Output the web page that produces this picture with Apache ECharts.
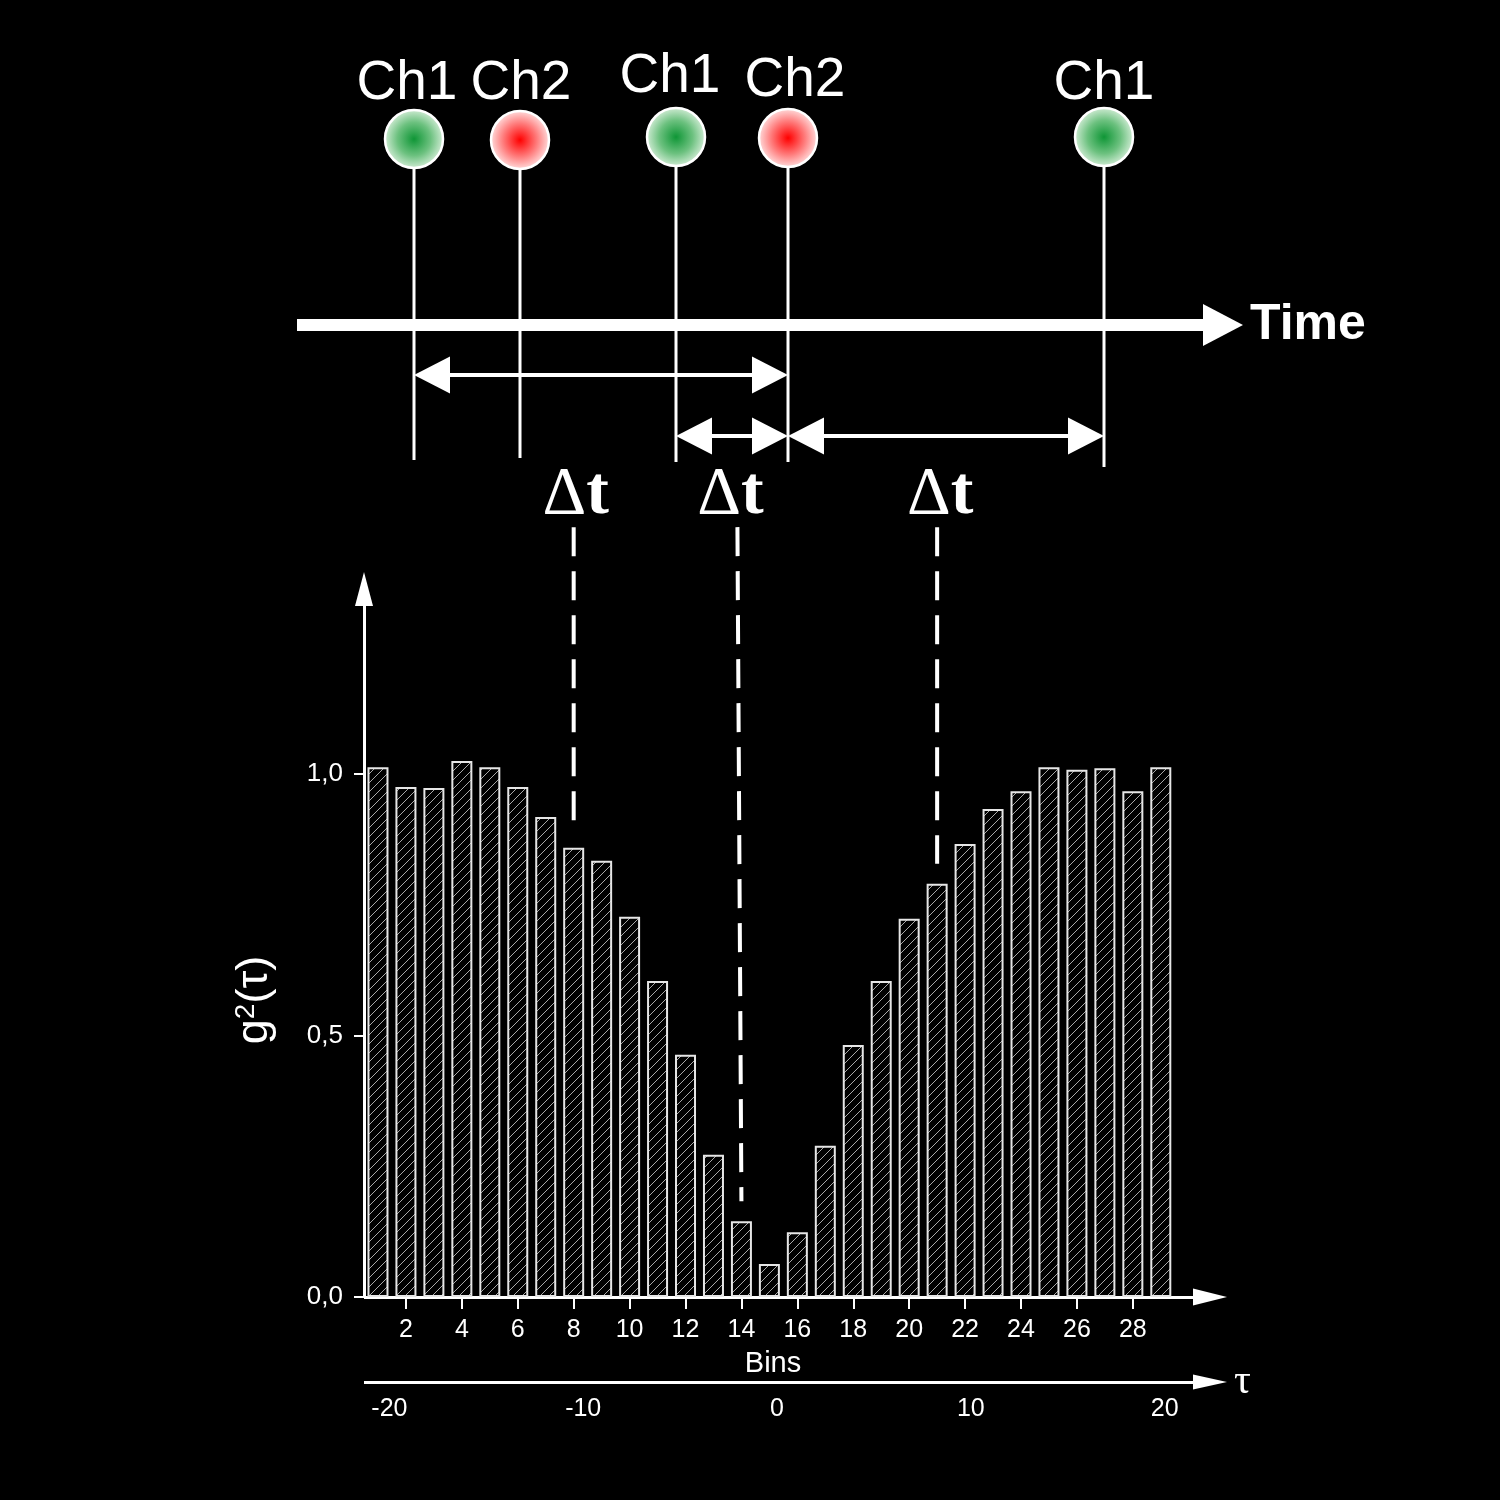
<!DOCTYPE html>
<html><head><meta charset="utf-8">
<script src="https://cdn.jsdelivr.net/npm/echarts@6/dist/echarts.min.js"></script>
<style>html,body{margin:0;background:#000}#c{width:1500px;height:1500px}</style>
</head><body><div id="c"></div>
<script>
// ---------------- data ----------------
const bins = [1,2,3,4,5,6,7,8,9,10,11,12,13,14,15,16,17,18,19,20,21,22,23,24,25,26,27,28,29];
const g2 = [1.013,0.975,0.973,1.025,1.013,0.975,0.918,0.859,0.834,0.727,0.604,0.463,0.272,0.145,0.063,
            0.124,0.289,0.482,0.604,0.723,0.790,0.866,0.933,0.967,1.013,1.008,1.011,0.967,1.013];
const binTicks = [2,4,6,8,10,12,14,16,18,20,22,24,26,28];
const yTicks = [0,0.5,1.0];
const tauTicks = [-20,-10,0,10,20];
// schematic photon detection events on the time line (arbitrary time units)
const channels = ['Ch1','Ch2','Ch1','Ch2','Ch1'];
const eventTimes = [117,223,379,491,807];
const eventHeights = [186,185,188,187,188];
const stemEnds = [-135,-133,-137,-137,-142];
// start/stop pairs (indices into events) and level of each Δt arrow
const intervalPairs = [[0,3],[2,3],[3,4]];
const intervalLevels = [-50,-111,-111];
// bins that each Δt falls into
const dtBins = [8,14,21];

// ---------------- styles ----------------
const SANS = '"Liberation Sans", Arial, sans-serif';
const SERIF = '"Liberation Serif", "Times New Roman", serif';
const DT_TOP = 1.472;           // y level (g2 units) where the dashed Δt guides start
const dtLabelDx = [2,-11,3];
const dtTopDx = [0,-4,0];
const chLabelDx = [-7,1,-6,7,0];
const chLabelDy = [3,2,-2,1,5];

const hatch = (function(){
  const c = document.createElement('canvas'); c.width = 9; c.height = 9;
  const x = c.getContext('2d');
  x.fillStyle = '#000'; x.fillRect(0,0,9,9);
  x.strokeStyle = '#a8a8a8'; x.lineWidth = 1;
  x.beginPath();
  x.moveTo(-1,10); x.lineTo(10,-1);
  x.moveTo(-1,1); x.lineTo(1,-1);
  x.moveTo(8,10); x.lineTo(10,8);
  x.stroke();
  return c;
})();

function ballColor(ch){
  return ch === 'Ch1'
    ? {type:'radial',x:0.5,y:0.5,r:0.5,colorStops:[{offset:0,color:'#0f9636'},{offset:0.55,color:'#6cc17f'},{offset:1,color:'#d6eed9'}]}
    : {type:'radial',x:0.5,y:0.5,r:0.5,colorStops:[{offset:0,color:'#ff0000'},{offset:0.55,color:'#ff7a7a'},{offset:1,color:'#ffe2e2'}]};
}

const chart = echarts.init(document.getElementById('c'), null, {renderer:'canvas'});

const option = {
  backgroundColor: '#000',
  animation: false,
  grid: [
    {left: 364, top: 589, width: 846, height: 708},
    {left: 297, top: 25, width: 926, height: 475}
  ],
  xAxis: [
    { // bins
      gridIndex: 0, type: 'value', min: 0.5, max: 30.76, position: 'bottom',
      axisLine: {onZero: false, symbol: ['none','triangle'], symbolSize: [17,34], lineStyle: {color:'#fff', width: 3, cap: 'butt'}},
      axisTick: {show: true, customValues: binTicks, length: 12, lineStyle: {color:'#fff', width: 2}},
      axisLabel: {customValues: binTicks, color:'#fff', fontSize: 25, fontFamily: SANS, margin: 21},
      splitLine: {show: false},
      name: 'Bins', nameLocation: 'middle', nameGap: 52,
      nameTextStyle: {color:'#fff', fontSize: 29, fontFamily: SANS, padding: [0,28,0,0]}
    },
    { // tau
      gridIndex: 0, type: 'value', min: -21.31, max: 22.34, position: 'bottom', offset: 85,
      axisLine: {onZero: false, symbol: ['none','triangle'], symbolSize: [15,34], lineStyle: {color:'#fff', width: 3, cap: 'butt'}},
      axisTick: {show: false},
      axisLabel: {customValues: tauTicks, color:'#fff', fontSize: 25, fontFamily: SANS, margin: 15},
      splitLine: {show: false},
      name: 'τ', nameLocation: 'end', nameGap: 24,
      nameTextStyle: {color:'#fff', fontSize: 42, fontFamily: SERIF, verticalAlign: 'middle'}
    },
    { // time line
      gridIndex: 1, type: 'value', min: 0, max: 926,
      axisLine: {onZero: true, symbol: ['none','triangle'], symbolSize: [42,40], lineStyle: {color:'#fff', width: 12, cap: 'butt'}},
      axisTick: {show: false}, axisLabel: {show: false}, splitLine: {show: false},
      name: 'Time', nameLocation: 'end', nameGap: 27,
      nameTextStyle: {color:'#fff', fontSize: 50, fontWeight: 'bold', fontFamily: SANS, verticalAlign: 'middle', padding: [14,0,0,0]}
    }
  ],
  yAxis: [
    {
      gridIndex: 0, type: 'value', min: 0, max: 1.3537,
      axisLine: {onZero: false, symbol: ['none','triangle'], symbolSize: [18,34], lineStyle: {color:'#fff', width: 3, cap: 'butt'}},
      axisTick: {show: true, customValues: yTicks, length: 10, lineStyle: {color:'#fff', width: 2}},
      axisLabel: {customValues: yTicks, color:'#fff', fontSize: 26, fontFamily: SANS, margin: 21,
        formatter: v => v.toFixed(1).replace('.', ',')},
      splitLine: {show: false}
    },
    {
      gridIndex: 1, type: 'value', min: -175, max: 300, show: true,
      axisLine: {show: false}, axisTick: {show: false}, axisLabel: {show: false}, splitLine: {show: false}
    }
  ],
  graphic: [{
    type: 'text', x: 255, y: 1000, rotation: Math.PI/2,
    style: {
      text: '{g|g}{s|2}{g|(τ)}', align: 'center', verticalAlign: 'middle', fill: '#fff',
      rich: {
        g: {fontSize: 45, fontFamily: SANS, fill: '#fff'},
        s: {fontSize: 28, fontFamily: SANS, fill: '#fff', verticalAlign: 'top', padding:[0,0,16,0]}
      }
    }
  }],
  series: [
    {
      type: 'bar', xAxisIndex: 0, yAxisIndex: 0, barWidth: 21,
      data: bins.map((b,i) => [b, g2[i]]),
      itemStyle: {color: {image: hatch, repeat: 'repeat'}, borderColor: '#e6e6e6', borderWidth: 2}
    },
    {
      type: 'custom', xAxisIndex: 0, yAxisIndex: 0, clip: false, z: 5,
      data: dtBins.map(b => [b, g2[b-1]]),
      renderItem: function(params, api){
        const i = params.dataIndex;
        const bot = api.coord([api.value(0), api.value(1)]);
        const top = api.coord([api.value(0), DT_TOP]);
        return {type:'group', children:[
          {type:'line', shape:{x1: top[0]+dtTopDx[i], y1: top[1], x2: bot[0], y2: bot[1]-20},
           style:{stroke:'#fff', lineWidth: 4, lineDash:[29,15]}},
          {type:'text', x: top[0]+dtLabelDx[i], y: top[1]-32,
           style:{text:'{d|Δ}{t|t}', align:'center', verticalAlign:'middle', fill:'#fff',
             rich:{
               d:{fontSize: 68, fontFamily: SERIF, fill:'#fff'},
               t:{fontSize: 68, fontFamily: SERIF, fontWeight:'bold', fill:'#fff'}
             }}}
        ]};
      }
    },
    {
      type: 'custom', xAxisIndex: 2, yAxisIndex: 1, z: 2, clip: false,
      data: eventTimes.map((t,i) => [t, eventHeights[i], stemEnds[i]]),
      renderItem: function(params, api){
        const a = api.coord([api.value(0), api.value(1)]);
        const b = api.coord([api.value(0), api.value(2)]);
        return {type:'line', shape:{x1:a[0], y1:a[1], x2:b[0], y2:b[1]}, style:{stroke:'#fff', lineWidth:3}};
      }
    },
    {
      type: 'custom', xAxisIndex: 2, yAxisIndex: 1, z: 4, clip: false,
      data: intervalPairs.map((p,i) => [eventTimes[p[0]], eventTimes[p[1]], intervalLevels[i]]),
      renderItem: function(params, api){
        const p1 = api.coord([api.value(0), api.value(2)]);
        const p2 = api.coord([api.value(1), api.value(2)]);
        const L = 36, H = 18.5, y = p1[1];
        return {type:'group', children:[
          {type:'line', shape:{x1:p1[0]+L-2, y1:y, x2:p2[0]-L+2, y2:y}, style:{stroke:'#fff', lineWidth:4}},
          {type:'polygon', shape:{points:[[p1[0],y],[p1[0]+L,y-H],[p1[0]+L,y+H]]}, style:{fill:'#fff'}},
          {type:'polygon', shape:{points:[[p2[0],y],[p2[0]-L,y-H],[p2[0]-L,y+H]]}, style:{fill:'#fff'}}
        ]};
      }
    },
    {
      type: 'scatter', xAxisIndex: 2, yAxisIndex: 1, z: 6, symbolSize: 58,
      data: eventTimes.map((t,i) => ({value:[t, eventHeights[i]], name: channels[i],
        itemStyle: {color: ballColor(channels[i])},
        label: {offset: [chLabelDx[i], chLabelDy[i]]}})),
      itemStyle: {borderColor:'#fff', borderWidth: 2.5, opacity: 1},
      label: {show: true, position: 'top', distance: 0, formatter: '{b}', color:'#fff',
        fontSize: 55, fontFamily: SANS}
    }
  ]
};
chart.setOption(option);
</script>
</body></html>
